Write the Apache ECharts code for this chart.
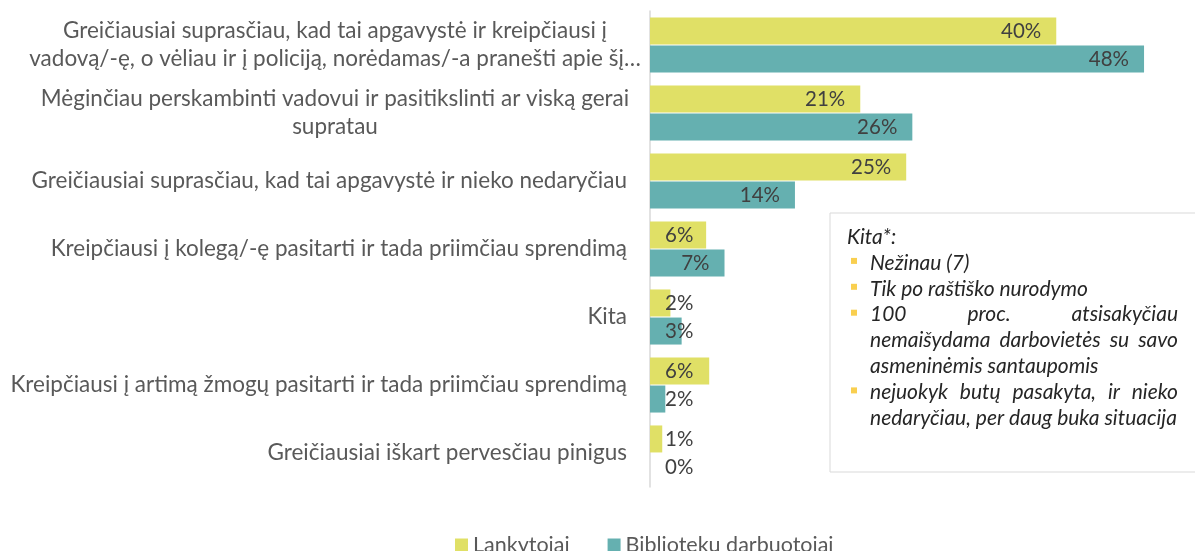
<!DOCTYPE html>
<html>
<head>
<meta charset="UTF-8">
<script type="text/javascript" src="https://cdn.jsdelivr.net/npm/echarts@6/dist/echarts.min.js"></script>
<title>Reakcija į apgavystę</title>
<style>
	html, body { margin: 0; padding: 0; background: #fff; }
	#main { width: 1195px; height: 551px; }
</style>
</head>
<body>
<div id="main"></div>
<script type="text/javascript">
	var categories = [
		'Greičiausiai suprasčiau, kad tai apgavystė ir kreipčiausi į\nvadovą/-ę, o vėliau ir į policiją, norėdamas/-a pranešti apie šį…',
		'Mėginčiau perskambinti vadovui ir pasitikslinti ar viską gerai\nsupratau',
		'Greičiausiai suprasčiau, kad tai apgavystė ir nieko nedaryčiau',
		'Kreipčiausi į kolegą/-ę pasitarti ir tada priimčiau sprendimą',
		'Kita',
		'Kreipčiausi į artimą žmogų pasitarti ir tada priimčiau sprendimą',
		'Greičiausiai iškart pervesčiau pinigus'
	];
	var seriesNames = ['Lankytojai', 'Bibliotekų darbuotojai'];
	var lankytojai = [39.8, 20.6, 25.1, 5.5, 2.0, 5.8, 1.2];
	var darbuotojai = [48.4, 25.7, 14.2, 7.3, 3.1, 1.5, 0];

	// teksto langelis "Kita*" (b = su ženkleliu, j = išlygintas)
	var kitaTitle = 'Kita*:';
	var kitaLines = [
		{ t: 'Nežinau (7)', b: true },
		{ t: 'Tik po raštiško nurodymo', b: true },
		{ t: '100 proc. atsisakyčiau', b: true, j: true },
		{ t: 'nemaišydama darbovietės su savo', j: true },
		{ t: 'asmeninėmis santaupomis' },
		{ t: 'nejuokyk butų pasakyta, ir nieko', b: true, j: true },
		{ t: 'nedaryčiau, per daug buka situacija' }
	];

	var FONT = 'Lato';
	var COLORS = ['#e0e066', '#65b0b0'];

	var myChart = echarts.init(document.getElementById('main'));

	function barData(values) {
		return values.map(function (v) {
			var small = v < 6;
			return {
				value: v,
				label: { position: small ? 'insideLeft' : 'insideRight', distance: 15 }
			};
		});
	}

	function measure(text, font) {
		var c = measure.canvas || (measure.canvas = document.createElement('canvas'));
		var ctx = c.getContext('2d');
		ctx.font = font;
		return ctx.measureText(text).width;
	}

	function buildBox() {
		var els = [];
		var x0 = 870, x1 = 1178, y0 = 237, step = 25.9;
		var font = 'italic 21px ' + FONT;
		var st = { fill: '#262626', font: font, textVerticalAlign: 'middle' };
		els.push({ type: 'rect', shape: { x: 830, y: 213, width: 380, height: 259 },
			style: { fill: '#fff', stroke: '#d9d9d9', lineWidth: 1 }, z: 10 });
		els.push({ type: 'text', x: 847, y: y0, z: 11,
			style: Object.assign({}, st, { text: kitaTitle }) });
		kitaLines.forEach(function (ln, i) {
			var y = y0 + (i + 1) * step;
			if (ln.b) {
				els.push({ type: 'rect', shape: { x: 851, y: y - 5, width: 6, height: 6 },
					style: { fill: '#f9cf4f' }, z: 11 });
			}
			if (ln.j) {
				var words = ln.t.split(' ');
				var wsum = 0;
				words.forEach(function (w) { wsum += measure(w, font); });
				var gap = (x1 - x0 - wsum) / (words.length - 1);
				var x = x0;
				words.forEach(function (w) {
					els.push({ type: 'text', x: x, y: y, z: 11,
						style: Object.assign({}, st, { text: w }) });
					x += measure(w, font) + gap;
				});
			} else {
				els.push({ type: 'text', x: x0, y: y, z: 11,
					style: Object.assign({}, st, { text: ln.t }) });
			}
		});
		return els;
	}

	var labelStyle = {
		show: true,
		color: '#404040',
		fontSize: 20.5,
		fontFamily: FONT,
		formatter: function (p) { return Math.round(p.value) + '%'; }
	};

	var option = {
		animation: false,
		textStyle: { fontFamily: FONT },
		color: COLORS,
		legend: {
			data: seriesNames,
			top: 534,
			left: 455,
			padding: 0,
			icon: 'rect',
			itemWidth: 13,
			itemHeight: 13,
			itemGap: 38,
			textStyle: { fontSize: 21.5, color: '#595959', fontFamily: FONT }
		},
		grid: { left: 650, right: 4, top: 11, height: 476 },
		xAxis: {
			type: 'value',
			min: 0,
			max: 53,
			show: false,
			splitLine: { show: false }
		},
		yAxis: {
			type: 'category',
			data: categories,
			inverse: true,
			axisLine: { lineStyle: { color: '#d9d9d9', width: 1.5 } },
			axisTick: { show: false },
			axisLabel: {
				margin: 10,
				formatter: function (v) {
					var lines = v.split('\n');
					if (lines.length > 1) {
						return lines.map(function (l) { return '{c|' + l + '}'; }).join('\n');
					}
					return '{r|' + v + '}';
				},
				rich: {
					c: { width: 610, align: 'center', fontSize: 22.5, lineHeight: 28, color: '#595959', fontFamily: FONT },
					r: { padding: [0, 13, 0, 0], fontSize: 22.5, color: '#595959', fontFamily: FONT }
				}
			}
		},
		series: [
			{
				name: seriesNames[0],
				type: 'bar',
				barWidth: 27,
				barGap: '4%',
				data: barData(lankytojai),
				label: labelStyle
			},
			{
				name: seriesNames[1],
				type: 'bar',
				barWidth: 27,
				barGap: '4%',
				data: barData(darbuotojai),
				label: labelStyle
			}
		],
		graphic: buildBox()
	};

	myChart.setOption(option);
</script>
</body>
</html>
